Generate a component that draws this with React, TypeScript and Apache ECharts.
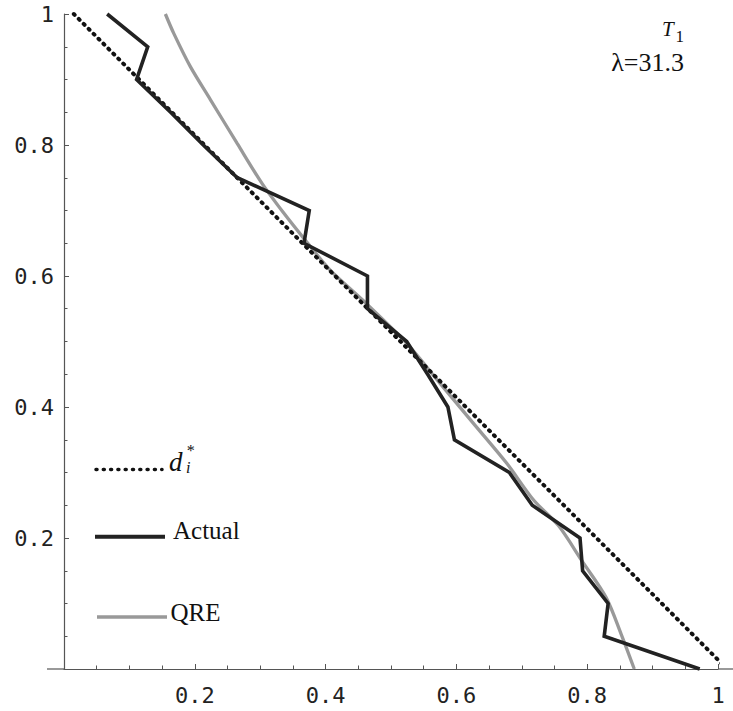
import React, { useEffect, useRef } from "react";
import * as echarts from "echarts";

// ---- data ----
const dStarX = [0.015, 1.014];
const dStarY = [1.0, 0.0];

const actualX = [0.066, 0.128, 0.111, 0.163, 0.213, 0.265, 0.375, 0.367, 0.464, 0.464, 0.524, 0.556, 0.587, 0.597, 0.681, 0.716, 0.789, 0.793, 0.832, 0.826, 0.972];
const actualY = [1.0, 0.95, 0.9, 0.85, 0.8, 0.75, 0.7, 0.65, 0.6, 0.55, 0.5, 0.45, 0.4, 0.35, 0.3, 0.25, 0.2, 0.15, 0.1, 0.05, 0.0];

const qreX = [0.155, 0.168, 0.193, 0.224, 0.265, 0.303, 0.336, 0.367, 0.407, 0.457, 0.524, 0.575, 0.626, 0.677, 0.718, 0.756, 0.792, 0.829, 0.852, 0.872];
const qreY = [1.0, 0.97, 0.92, 0.869, 0.802, 0.741, 0.696, 0.657, 0.609, 0.563, 0.497, 0.436, 0.375, 0.314, 0.258, 0.219, 0.165, 0.109, 0.053, 0.0];

const tickLabels = ["0.2", "0.4", "0.6", "0.8", "1"];

const legendNames = ["Actual", "QRE"];
const annotationLabel = "λ=31.3";

const zip = (xs: number[], ys: number[]) => xs.map((x, i) => [x, ys[i]]);

const fmt = (v: number) => {
  const s = String(+v.toFixed(2));
  return tickLabels.includes(s) ? s : "";
};

const serif = "Liberation Serif";
const txt = (
  text: string,
  x: number,
  y: number,
  size: number,
  opts: { italic?: boolean; align?: string; lineHeight?: number } = {}
) => ({
  type: "text",
  style: {
    text,
    x,
    y,
    fontFamily: serif,
    fontSize: size,
    fontStyle: opts.italic ? "italic" : "normal",
    lineHeight: opts.lineHeight,
    fill: "#111",
    textAlign: opts.align || "left",
    textVerticalAlign: "middle",
  },
});

export default function App() {
  const ref = useRef<HTMLDivElement>(null);

  useEffect(() => {
    if (!ref.current) return;
    const chart = echarts.init(ref.current, null, { renderer: "svg" });
    const axisColor = "#555";
    const labelStyle = {
      fontFamily: "DejaVu Sans Mono",
      fontSize: 22,
      color: "#222",
    };
    chart.setOption({
      animation: false,
      backgroundColor: "#fff",
      grid: { left: 64, top: 14, width: 654, height: 655 },
      xAxis: {
        type: "value",
        min: 0,
        max: 1,
        interval: 0.2,
        axisLine: { show: true, onZero: false, lineStyle: { color: axisColor, width: 1.2 } },
        axisTick: { show: true, inside: true, length: 5, lineStyle: { color: axisColor } },
        minorTick: { show: true, splitNumber: 4, length: 3.5, lineStyle: { color: axisColor } },
        splitLine: { show: false },
        axisLabel: { ...labelStyle, margin: 15, formatter: fmt },
      },
      yAxis: {
        type: "value",
        min: 0,
        max: 1,
        interval: 0.2,
        axisLine: { show: true, onZero: false, lineStyle: { color: axisColor, width: 1.2 } },
        axisTick: { show: true, inside: true, length: 5, lineStyle: { color: axisColor } },
        minorTick: { show: true, splitNumber: 4, length: 3.5, lineStyle: { color: axisColor } },
        splitLine: { show: false },
        axisLabel: { ...labelStyle, margin: 10, formatter: fmt },
      },
      series: [
        {
          name: "d*",
          type: "line",
          data: zip(dStarX, dStarY),
          symbol: "none",
          clip: false,
          lineStyle: { color: "#111", width: 4, type: [1.2, 5.8], cap: "round" },
          z: 3,
        },
        {
          name: legendNames[1],
          type: "line",
          data: zip(qreX, qreY),
          symbol: "none",
          smooth: 0.3,
          clip: false,
          lineStyle: { color: "#999", width: 3.3 },
          z: 2,
        },
        {
          name: legendNames[0],
          type: "line",
          data: zip(actualX, actualY),
          symbol: "none",
          clip: false,
          lineStyle: { color: "#222", width: 3.6, join: "miter" },
          z: 4,
        },
      ],
      graphic: [
        // axis line extensions
        { type: "line", shape: { x1: 47, y1: 669, x2: 64, y2: 669 }, style: { stroke: axisColor, lineWidth: 1.2 } },
        { type: "line", shape: { x1: 718, y1: 669, x2: 733, y2: 669 }, style: { stroke: axisColor, lineWidth: 1.2 } },
        // annotation
        txt("T", 662, 29, 21, { italic: true }),
        txt("1", 675.5, 36, 17),
        txt(annotationLabel, 684, 62, 26, { align: "right" }),
        // legend
        { type: "line", shape: { x1: 96, y1: 469.5, x2: 162, y2: 469.5 }, style: { stroke: "#111", lineWidth: 3.5, lineDash: [1, 6.3], lineCap: "round" } },
        txt("d", 169, 462, 27, { italic: true }),
        txt("*\ni", 186, 459, 16, { italic: true, lineHeight: 17 }),
        { type: "line", shape: { x1: 95, y1: 536.7, x2: 165, y2: 536.7 }, style: { stroke: "#222", lineWidth: 4 } },
        txt(legendNames[0], 173, 530, 25),
        { type: "line", shape: { x1: 97, y1: 617, x2: 167, y2: 617 }, style: { stroke: "#999", lineWidth: 3.5 } },
        txt(legendNames[1], 170.5, 612, 25),
      ],
    });
    return () => chart.dispose();
  }, []);

  return (
    <div
      ref={ref}
      style={{ position: "absolute", left: 0, top: 0, width: 733, height: 711 }}
    />
  );
}
